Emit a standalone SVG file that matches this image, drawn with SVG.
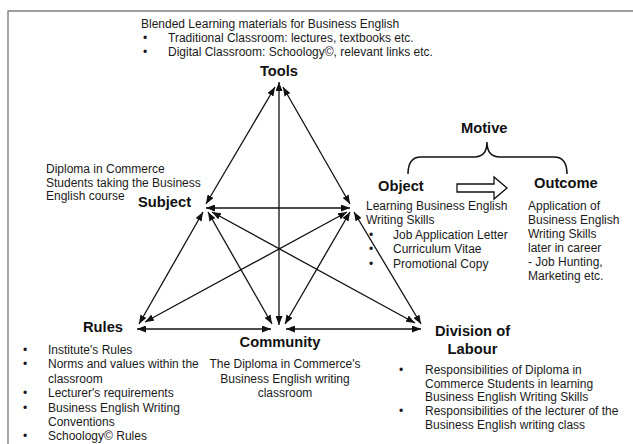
<svg xmlns="http://www.w3.org/2000/svg" width="633" height="444" viewBox="0 0 633 444">
  <style>
    text { font-family: "Liberation Sans", Arial, sans-serif; fill: #1a1a1a; }
    .body { font-size: 12px; }
    .label { font-size: 14.7px; font-weight: bold; fill: #111; }
    .mid { text-anchor: middle; }
    .link { stroke: #111; stroke-width: 1.3; fill: none; marker-start: url(#ah); marker-end: url(#ah); }
    .frame { stroke: #808080; stroke-width: 1.4; fill: none; }
  </style>
  <defs>
    <marker id="ah" viewBox="0 0 9 7" refX="9" refY="3.5" markerWidth="9" markerHeight="7" markerUnits="userSpaceOnUse" orient="auto-start-reverse">
      <path d="M0,0 L9,3.5 L0,7 z" fill="#111"/>
    </marker>
  </defs>

  <rect width="633" height="444" fill="#fff"/>

  <!-- frame: top and left edges only -->
  <path class="frame" d="M8,444 V11 H633"/>

  <!-- activity system connectors -->
  <g id="connectors">
    <line class="link" x1="275" y1="87" x2="206" y2="204"/>
    <line class="link" x1="283" y1="87" x2="350" y2="204"/>
    <line class="link" x1="279" y1="82" x2="279" y2="325"/>
    <line class="link" x1="206" y1="208" x2="350" y2="208"/>
    <line class="link" x1="203" y1="212" x2="139" y2="324"/>
    <line class="link" x1="208" y1="212" x2="272" y2="324"/>
    <line class="link" x1="212" y1="212" x2="415" y2="323"/>
    <line class="link" x1="347" y1="212" x2="145" y2="322"/>
    <line class="link" x1="350" y1="212" x2="285" y2="324"/>
    <line class="link" x1="354" y1="212" x2="421" y2="324"/>
    <line class="link" x1="137" y1="329" x2="271" y2="329"/>
    <line class="link" x1="286" y1="329" x2="421" y2="329"/>
  </g>

  <g id="tools">
    <text class="body" x="141" y="28">Blended Learning materials for Business English</text>
    <text class="body" x="143" y="42">•</text>
    <text class="body" x="168" y="42">Traditional Classroom: lectures, textbooks etc.</text>
    <text class="body" x="143" y="56">•</text>
    <text class="body" x="168" y="56">Digital Classroom: Schoology©, relevant links etc.</text>
    <text class="label mid" x="279" y="76">Tools</text>
  </g>

  <g id="subject">
    <text class="body" x="46" y="173">Diploma in Commerce</text>
    <text class="body" x="46" y="187">Students taking the Business</text>
    <text class="body" x="46" y="200">English course</text>
    <text class="label" x="138" y="207">Subject</text>
  </g>

  <g id="motive">
    <text class="label" x="461" y="133">Motive</text>
    <path d="M408,174 Q408,157 421,157 L474,157 Q487,157 487,142 Q487,157 500,157 L554,157 Q567,157 567,174" fill="none" stroke="#111" stroke-width="1.5"/>
  </g>

  <g id="object">
    <text class="label" x="378" y="191">Object</text>
    <text class="body" x="366" y="210">Learning Business English</text>
    <text class="body" x="366" y="224">Writing Skills</text>
    <text class="body" x="369" y="239">•</text>
    <text class="body" x="393" y="239">Job Application Letter</text>
    <text class="body" x="369" y="253">•</text>
    <text class="body" x="393" y="253">Curriculum Vitae</text>
    <text class="body" x="369" y="268">•</text>
    <text class="body" x="393" y="268">Promotional Copy</text>
  </g>

  <!-- hollow block arrow from object to outcome -->
  <polygon points="457,184 494,184 494,177 507,188 494,199 494,192 457,192" fill="#fff" stroke="#111" stroke-width="1.3"/>

  <g id="outcome">
    <text class="label" x="534" y="188">Outcome</text>
    <text class="body" x="528" y="210">Application of</text>
    <text class="body" x="528" y="224">Business English</text>
    <text class="body" x="528" y="238">Writing Skills</text>
    <text class="body" x="528" y="252">later in career</text>
    <text class="body" x="528" y="266">- Job Hunting,</text>
    <text class="body" x="528" y="280">Marketing etc.</text>
  </g>

  <g id="rules">
    <text class="label" x="83" y="332">Rules</text>
    <text class="body" x="23" y="354">•</text>
    <text class="body" x="48" y="354">Institute's Rules</text>
    <text class="body" x="23" y="368">•</text>
    <text class="body" x="48" y="368">Norms and values within the</text>
    <text class="body" x="48" y="382.5">classroom</text>
    <text class="body" x="23" y="397">•</text>
    <text class="body" x="48" y="397">Lecturer's requirements</text>
    <text class="body" x="23" y="411.5">•</text>
    <text class="body" x="48" y="411.5">Business English Writing</text>
    <text class="body" x="48" y="426">Conventions</text>
    <text class="body" x="23" y="440">•</text>
    <text class="body" x="48" y="440">Schoology© Rules</text>
  </g>

  <g id="community">
    <text class="label mid" x="280" y="347">Community</text>
    <text class="body mid" x="285" y="368">The Diploma in Commerce's</text>
    <text class="body mid" x="285" y="382.5">Business English writing</text>
    <text class="body mid" x="285" y="397">classroom</text>
  </g>

  <g id="division">
    <text class="label mid" x="472.5" y="336">Division of</text>
    <text class="label mid" x="472.5" y="354">Labour</text>
    <text class="body" x="399" y="374">•</text>
    <text class="body" x="425" y="374">Responsibilities of Diploma in</text>
    <text class="body" x="425" y="387.5">Commerce Students in learning</text>
    <text class="body" x="425" y="401">Business English Writing Skills</text>
    <text class="body" x="399" y="415">•</text>
    <text class="body" x="425" y="415">Responsibilities of the lecturer of the</text>
    <text class="body" x="425" y="428.5">Business English writing class</text>
  </g>
</svg>
